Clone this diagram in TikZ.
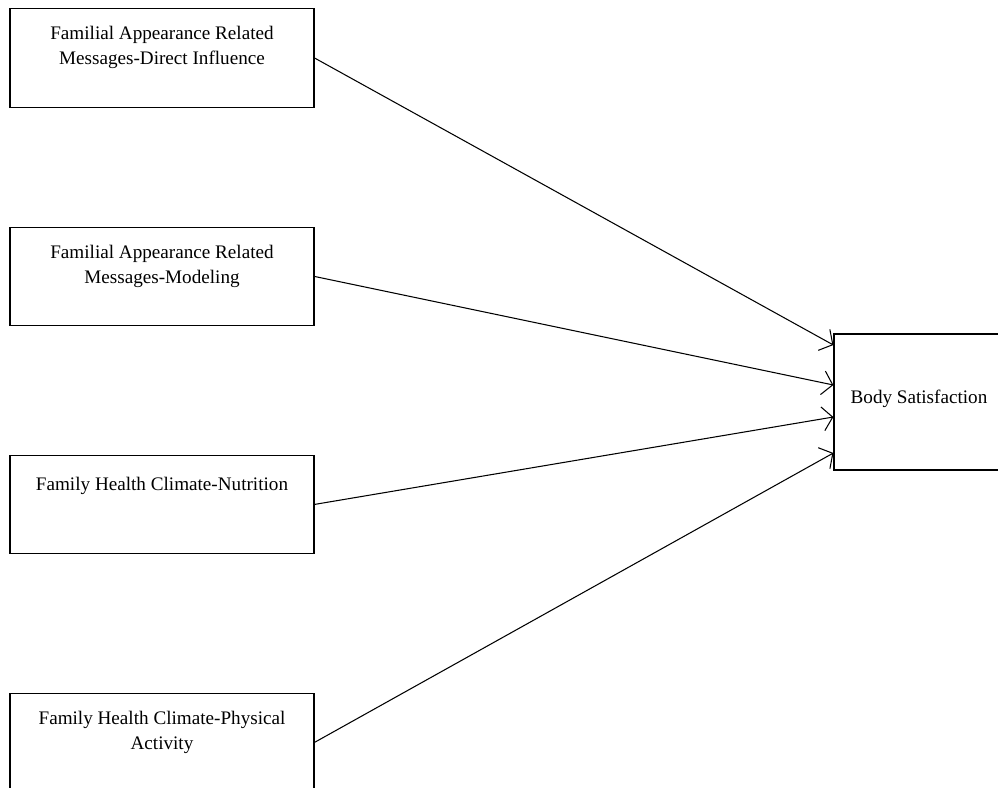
\documentclass[tikz,border=0pt]{standalone}
\usepackage{fontspec}
\setmainfont{Liberation Serif}
\usetikzlibrary{arrows.meta,positioning}

\begin{document}
\begin{tikzpicture}[x=0.02cm,y=-0.02cm,>={Straight Barb[length=2mm,width=4.8mm]},node distance=2cm,on grid,
                    box/.style={draw,line width=0.7pt,minimum width=6.08cm,minimum height=1.97cm,inner sep=0pt},
                    boxtext/.style={align=center,inner sep=0pt,anchor=north,font=\fontsize{10.9}{14.2}\selectfont}]
				  \useasboundingbox (0,0) rectangle (998,788);
				  \node[box]          (fam1) at (162,58)        {};
				  \node[box]          (fam2) [below=4.37cm of fam1] {};
				  \node[box]          (fam3) [below=4.56cm of fam2] {};
				  \node[box]          (fam4) [below=4.76cm of fam3] {};
				  \node[box,minimum width=3.4cm,minimum height=2.72cm] (body) at (919,402) {};

				  \node[boxtext]      (fam1txt) at ([yshift=-0.36cm]fam1.north) {Familial Appearance Related\\Messages-Direct Influence};
				  \node[boxtext]      (fam2txt) at ([yshift=-0.36cm]fam2.north) {Familial Appearance Related\\Messages-Modeling};
				  \node[boxtext]      (fam3txt) at ([yshift=-0.44cm]fam3.north) {Family Health Climate-Nutrition};
				  \node[boxtext]      (fam4txt) at ([yshift=-0.36cm]fam4.north) {Family Health Climate-Physical\\Activity};
				  \node[boxtext,anchor=center] (bodytxt) at ([yshift=0.06cm]body.center) {Body Satisfaction};

				\tikzset{link/.style={->,line width=0.6pt}}
				\path (fam1.east)     edge [link]    ([yshift=1.14cm]body.west)
					  (fam2.east)     edge [link]    ([yshift=0.34cm]body.west)
					  (fam3.east)     edge [link]    ([yshift=-0.30cm]body.west)
					  (fam4.east)     edge [link]    ([yshift=-1.02cm]body.west);
			\end{tikzpicture}
\end{document}
